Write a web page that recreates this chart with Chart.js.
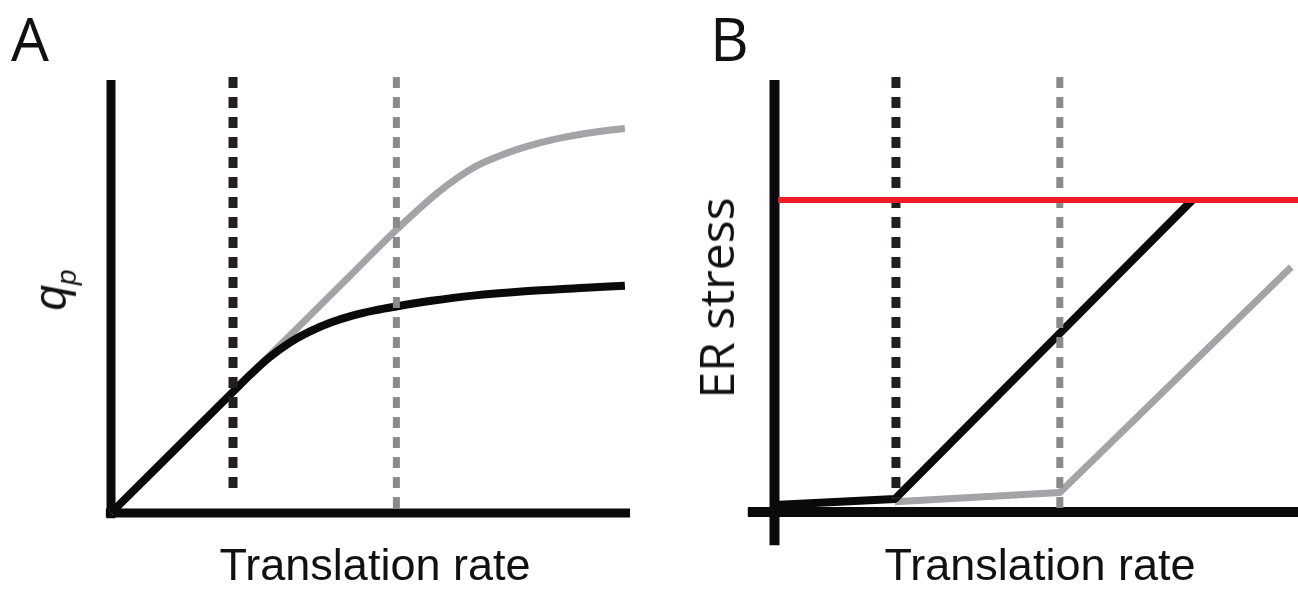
<!DOCTYPE html>
<html>
<head>
<meta charset="utf-8">
<script src="https://cdn.jsdelivr.net/npm/chart.js@4.4.1/dist/chart.umd.min.js"></script>
<style>
  html, body { margin: 0; padding: 0; background: #fff; }
  #wrap { position: relative; width: 1298px; height: 592px; overflow: hidden; }
  .panel { position: absolute; top: 0; width: 649px; height: 592px; }
  .lbl { position: absolute; white-space: nowrap; color: #111; }
  .letter { font-family: "Open Sans", sans-serif; font-size: 60px; line-height: 1; top: 8px; }
  .xt { font-family: "Liberation Sans", Arial, sans-serif; font-size: 45px; line-height: 1; top: 542px; transform: translateX(-50%); }
  .yt { font-family: "Open Sans", sans-serif; font-size: 48px; line-height: 1; transform: translate(-50%, -50%) rotate(-90deg); }
  .qt { font-family: "Liberation Sans", Arial, sans-serif; font-size: 46px; line-height: 1; transform: translate(-50%, -50%) rotate(-90deg); }
  .qt i sub { font-size: 28px; }
</style>
</head>
<body>
<div id="wrap">
  <div class="panel" style="left:0"><canvas id="cA" width="649" height="592"></canvas></div>
  <div class="panel" style="left:649px"><canvas id="cB" width="649" height="592"></canvas></div>
  <div class="lbl letter" style="left:11px">A</div>
  <div class="lbl letter" style="left:710px">B</div>
  <div class="lbl xt" style="left:375px">Translation rate</div>
  <div class="lbl xt" style="left:1040px">Translation rate</div>
  <div class="lbl qt" style="left:54px; top:290px"><i>q<sub>p</sub></i></div>
  <div class="lbl yt" style="left:716px; top:298px">ER stress</div>
</div>
<script>
// ---------- Panel A data (translation rate vs q_p) ----------
const aGrayX  = [0, 2.36, 3.4, 4.6, 5.52, 5.89, 6.3, 6.7, 7.11, 7.52, 7.92, 8.33, 8.73, 9.14, 9.55, 9.94];
const aGrayY  = [0, 2.8, 4.03, 5.45, 6.54, 6.95, 7.38, 7.74, 8.04, 8.25, 8.42, 8.56, 8.67, 8.76, 8.83, 8.88];
const aBlackX = [0, 2.36, 2.7, 3.05, 3.45, 3.86, 4.25, 4.67, 5.1, 5.52, 6.2, 7.0, 8.0, 9.0, 9.94];
const aBlackY = [0, 2.8, 3.2, 3.58, 3.93, 4.2, 4.4, 4.56, 4.68, 4.77, 4.9, 5.02, 5.12, 5.19, 5.25];
const aThresholdBlack = 2.36;
const aThresholdGray = 5.52;

// ---------- Panel B data (translation rate vs ER stress) ----------
const bBlackX = [0, 2.3, 7.98];
const bBlackY = [0.16, 0.3, 7.22];
const bGrayX  = [2.3, 5.45, 9.87];
const bGrayY  = [0.24, 0.45, 5.67];
const bStressLimit = 7.22;
const bThresholdBlack = 2.32;
const bThresholdGray = 5.45;

const zip = (xs, ys) => xs.map((x, i) => ({ x, y: ys[i] }));
const vline = (x, top, bottom) => [{ x, y: top }, { x, y: bottom }];
const hline = (y, left, right) => [{ x: left, y }, { x: right, y }];

const BLACK = '#0a0a0a';
const GRAY = '#a3a4a7';
const DASH_BLACK = '#231f20';
const DASH_GRAY = '#8a8a8c';
const RED = '#ee1c25';

const axesPlugin = {
  id: 'axes',
  beforeDatasetsDraw(chart, args, o) {
    const { ctx, scales: { x, y } } = chart;
    ctx.save();
    ctx.strokeStyle = BLACK;
    ctx.lineWidth = o.width;
    ctx.lineCap = 'butt';
    const x0 = x.getPixelForValue(0);
    const y0 = y.getPixelForValue(0);
    ctx.beginPath();
    ctx.moveTo(x0, y.getPixelForValue(o.yTop));
    ctx.lineTo(x0, y.getPixelForValue(o.yBottom));
    ctx.stroke();
    ctx.beginPath();
    ctx.moveTo(x.getPixelForValue(o.xLeft), y0);
    ctx.lineTo(x.getPixelForValue(o.xRight), y0);
    ctx.stroke();
    ctx.restore();
  }
};

function lineDs(data, color, width, extra) {
  return Object.assign({
    data, borderColor: color, borderWidth: width, pointRadius: 0, showLine: true,
    fill: false, clip: false, borderCapStyle: 'butt', borderJoinStyle: 'round'
  }, extra || {});
}

function baseOptions(pad, xr, yr, axes) {
  return {
    responsive: false, animation: false, maintainAspectRatio: false,
    layout: { padding: pad },
    scales: {
      x: { type: 'linear', min: xr[0], max: xr[1], display: false },
      y: { type: 'linear', min: yr[0], max: yr[1], display: false }
    },
    plugins: { legend: { display: false }, tooltip: { enabled: false }, title: { display: false }, axes },
    elements: { line: { tension: 0 } }
  };
}

new Chart(document.getElementById('cA'), {
  type: 'scatter',
  data: {
    datasets: [
      lineDs(vline(aThresholdGray, 10.07, -0.1), DASH_GRAY, 7, { borderDash: [11, 9], order: 1 }),
      lineDs(vline(aThresholdBlack, 10.07, 0.37), DASH_BLACK, 9, { borderDash: [11, 9], order: 2 }),
      lineDs(zip(aBlackX, aBlackY), BLACK, 8, { cubicInterpolationMode: 'monotone', order: 3 }),
      lineDs(zip(aGrayX, aGrayY), GRAY, 7, { cubicInterpolationMode: 'monotone', order: 4 })
    ]
  },
  options: baseOptions({ left: 111, right: 21, top: 80, bottom: 79 }, [0, 10], [0, 10],
    { width: 9, yTop: 10, yBottom: -0.12, xLeft: -0.1, xRight: 10.04 }),
  plugins: [axesPlugin]
});

new Chart(document.getElementById('cB'), {
  type: 'scatter',
  data: {
    datasets: [
      lineDs(hline(bStressLimit, 0.07, 10), RED, 6, { order: 0 }),
      lineDs(vline(bThresholdGray, 10.07, -0.1), DASH_GRAY, 7, { borderDash: [11, 9], order: 1 }),
      lineDs(vline(bThresholdBlack, 10.07, 0.3), DASH_BLACK, 9, { borderDash: [11, 9], order: 2 }),
      lineDs(zip(bBlackX, bBlackY), BLACK, 8, { order: 3 }),
      lineDs(zip(bGrayX, bGrayY), GRAY, 7, { order: 4 })
    ]
  },
  options: baseOptions({ left: 125.5, right: 0, top: 80, bottom: 80 }, [0, 10], [0, 10],
    { width: 10, yTop: 10, yBottom: -0.77, xLeft: -0.51, xRight: 10 }),
  plugins: [axesPlugin]
});
</script>
</body>
</html>
